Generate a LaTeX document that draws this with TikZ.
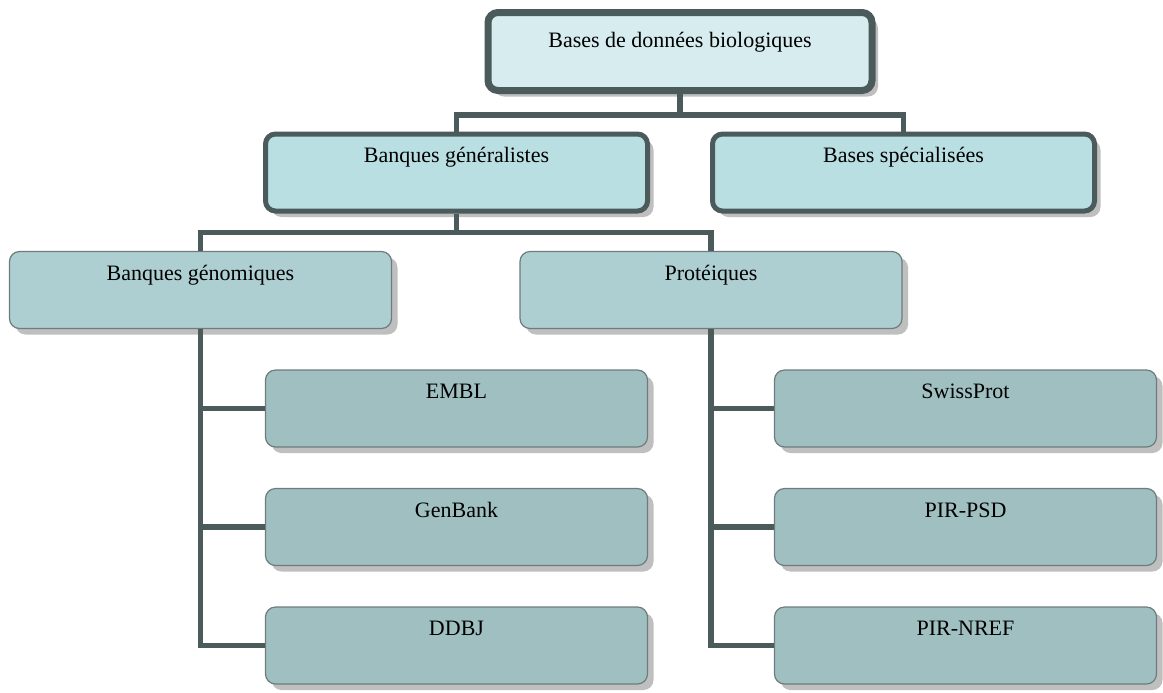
\documentclass[tikz,border=0pt]{standalone}
\usepackage{fontspec}
\setmainfont{Liberation Serif}
\usepackage{tikz}
\usetikzlibrary{shadows}
\usepackage{xcolor}

\definecolor{linkc}{HTML}{4B5B5B}
\definecolor{rootfill}{HTML}{D6ECEF}
\definecolor{bankfill}{HTML}{B9DFE2}
\definecolor{groupfill}{HTML}{AECFD2}
\definecolor{leaffill}{HTML}{A0BFC1}

\begin{document}
\begin{tikzpicture}[x=0.5pt, y=-0.5pt,
  box/.style={rectangle, rounded corners=5pt, align=center,
              font=\fontsize{11}{13}\selectfont,
              minimum width=191pt, minimum height=38.5pt,
              text height=8pt, text depth=18pt, inner sep=0pt,
              drop shadow={shadow xshift=3pt, shadow yshift=-3pt,
                           fill=black!25, opacity=1}},
  top/.style={box, draw=linkc, line width=3.5pt, fill=rootfill,
              minimum width=192pt, minimum height=39pt, text depth=12pt},
  bank/.style={box, draw=linkc, line width=2.5pt, fill=bankfill},
  group/.style={box, draw=linkc!80, line width=0.6pt, fill=groupfill},
  leaf/.style={box, draw=linkc!80, line width=0.6pt, fill=leaffill},
  link/.style={draw=linkc, line width=2.8pt},
]
  \useasboundingbox (0,0) rectangle (1163,692);

  \node[top]   (root)  at (680,51.5)   {Bases de données biologiques};

  \node[bank]  (gen)   at (456.5,172.5) {Banques généralistes};
  \node[bank]  (spec)  at (903.5,172.5) {Bases spécialisées};

  \node[group] (genom) at (200.5,290)  {Banques génomiques};
  \node[group] (prot)  at (711,290)    {Protéiques};

  \node[leaf]  (embl)  at (456.5,408.5) {EMBL};
  \node[leaf]  (genb)  at (456.5,527)   {GenBank};
  \node[leaf]  (ddbj)  at (456.5,645.5) {DDBJ};

  \node[leaf]  (swiss) at (965.5,408.5) {SwissProt};
  \node[leaf]  (psd)   at (965.5,527)   {PIR-PSD};
  \node[leaf]  (nref)  at (965.5,645.5) {PIR-NREF};

  \draw[link] (root.south) -- ++(0,21) -| (gen.north);
  \draw[link] (root.south) -- ++(0,21) -| (spec.north);

  \draw[link] (gen.south) -- ++(0,19) -| (genom.north);
  \draw[link] (gen.south) -- ++(0,19) -| (prot.north);

  \draw[link] (genom.south) |- (embl.west);
  \draw[link] (genom.south) |- (genb.west);
  \draw[link] (genom.south) |- (ddbj.west);

  \draw[link] (prot.south) |- (swiss.west);
  \draw[link] (prot.south) |- (psd.west);
  \draw[link] (prot.south) |- (nref.west);
\end{tikzpicture}
\end{document}
